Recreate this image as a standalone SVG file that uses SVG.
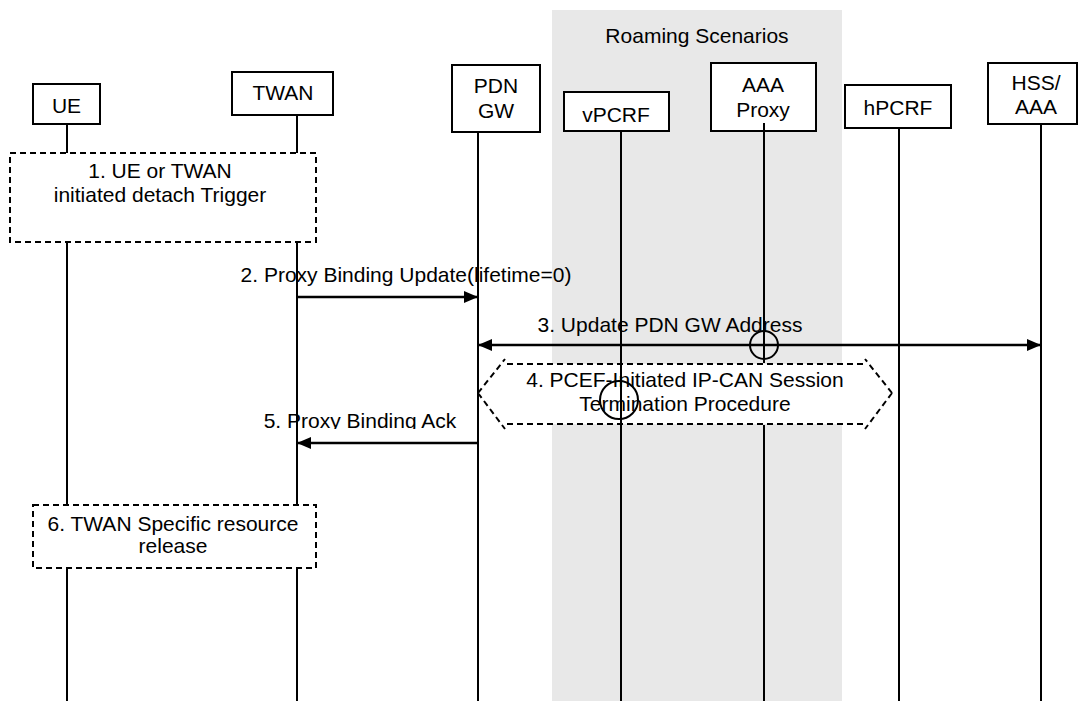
<svg xmlns="http://www.w3.org/2000/svg" width="1079" height="701" viewBox="0 0 1079 701">
  <style>
    text { font-family: "Liberation Sans", Arial, sans-serif; font-size: 21px; fill: #000; text-anchor: middle; }
    .box { fill: #fff; stroke: #000; stroke-width: 2; }
    .life { stroke: #000; stroke-width: 2; fill: none; }
    .note { fill: #fff; stroke: #000; stroke-width: 2; stroke-dasharray: 6 4; }
    .dash { fill: none; stroke: #000; stroke-width: 2; stroke-dasharray: 6 4; }
    .msg { stroke: #000; stroke-width: 2.5; fill: none; }
    .jump { stroke: #000; stroke-width: 2; fill: none; }
  </style>
  <defs>
    <marker id="arr" viewBox="0 0 14 12" refX="14" refY="6" markerWidth="14" markerHeight="12" markerUnits="userSpaceOnUse" orient="auto-start-reverse">
      <path d="M0,0 L14,6 L0,12 Z" fill="#000"/>
    </marker>
    <clipPath id="clip5"><rect x="0" y="0" width="1079" height="429"/></clipPath>
  </defs>

  <rect id="roaming" x="552" y="10" width="290" height="691" fill="#e8e8e8"/>
  <text x="697" y="43">Roaming  Scenarios</text>

  <g id="step4">
    <polygon fill="#fff" points="478,393 505,364 865,364 892,393 865,424 505,424"/>
    <path class="dash" d="M478,393 L505,359 M478,393 L505,429 M892,393 L865,359 M892,393 L865,429 M507,364 H863 M507,424 H863"/>
    <text x="685" y="387">4. PCEF-Initiated IP-CAN Session</text>
    <text x="685" y="411">Termination Procedure</text>
  </g>

  <g id="UE">
    <rect class="box" x="33" y="84" width="67" height="40"/>
    <text x="66.5" y="113">UE</text>
    <path class="life" d="M67,124 V153 M67,242 V505 M67,568 V701"/>
  </g>
  <g id="TWAN">
    <rect class="box" x="232" y="72" width="101" height="43"/>
    <text x="283" y="100">TWAN</text>
    <path class="life" d="M297,115 V153 M297,242 V505 M297,568 V701"/>
  </g>
  <g id="PDNGW">
    <rect class="box" x="452" y="65" width="88" height="67"/>
    <text x="496" y="93">PDN</text>
    <text x="496" y="118">GW</text>
    <path class="life" d="M478,132 V701"/>
  </g>
  <g id="vPCRF">
    <rect class="box" x="564" y="92" width="105" height="39"/>
    <text x="616" y="122">vPCRF</text>
    <path class="life" d="M621,131 V701"/>
  </g>
  <g id="AAAProxy">
    <rect class="box" x="711" y="63" width="105" height="68"/>
    <text x="763" y="92">AAA</text>
    <text x="763" y="117">Proxy</text>
    <path class="life" d="M764,123 V363 M764,425 V701"/>
  </g>
  <g id="hPCRF">
    <rect class="box" x="845" y="85" width="106" height="43"/>
    <text x="898" y="115">hPCRF</text>
    <path class="life" d="M899,128 V701"/>
  </g>
  <g id="HSSAAA">
    <rect class="box" x="988" y="63" width="89" height="61"/>
    <text x="1036" y="90">HSS/</text>
    <text x="1036" y="114">AAA</text>
    <path class="life" d="M1041,124 V701"/>
  </g>

  <g id="step1">
    <rect class="note" x="10" y="153" width="306" height="89"/>
    <text x="160" y="178">1. UE or TWAN</text>
    <text x="160" y="202">initiated detach Trigger</text>
  </g>
  <g id="step6">
    <rect class="note" x="33" y="505" width="283" height="63"/>
    <text x="173" y="531">6. TWAN Specific resource</text>
    <text x="173" y="553">release</text>
  </g>

  <g id="connectors">
    <line class="msg" x1="297" y1="297" x2="478" y2="297" marker-end="url(#arr)"/>
    <text x="406" y="282">2. Proxy Binding Update(lifetime=0)</text>

    <line class="msg" x1="478" y1="345" x2="1041" y2="345" marker-start="url(#arr)" marker-end="url(#arr)"/>
    <text x="670" y="332">3. Update PDN GW Address</text>
    <circle class="jump" cx="764" cy="345" r="14"/>
    <circle class="jump" cx="619" cy="400" r="19"/>

    <line class="msg" x1="478" y1="443" x2="297" y2="443" marker-end="url(#arr)"/>
    <text x="360" y="428" clip-path="url(#clip5)">5. Proxy Binding Ack</text>
  </g>
</svg>
